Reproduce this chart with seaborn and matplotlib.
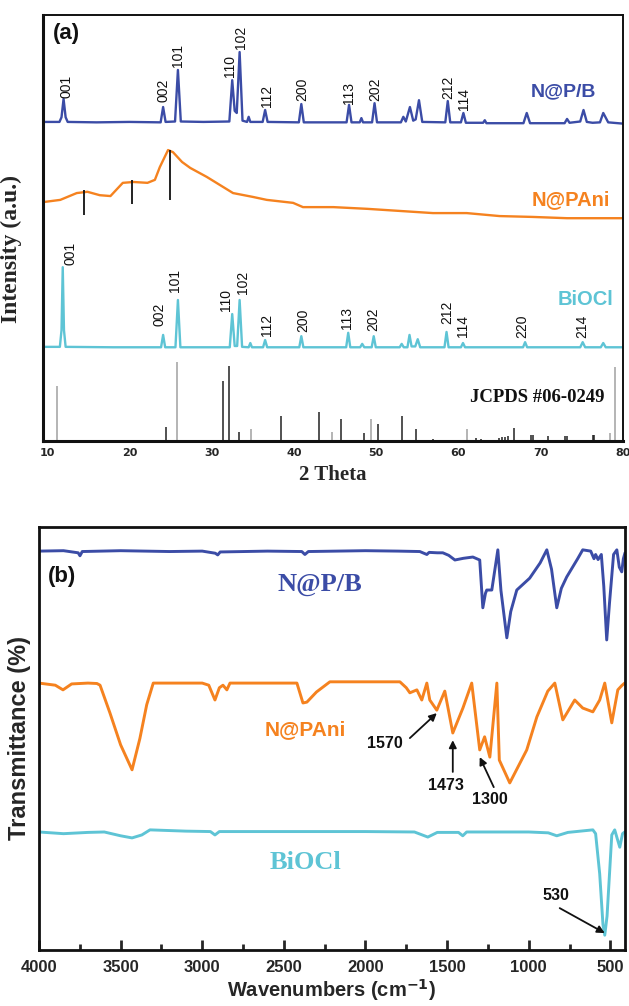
import matplotlib
matplotlib.use("Agg")
import matplotlib.pyplot as plt
import seaborn as sns
import pandas as pd

# ---------------- DATA: XRD (panel a) ----------------
npb_2theta = [9.5, 11.5, 11.75, 12.0, 12.25, 12.5, 16.0, 20.0, 23.8, 24.1, 24.4,
              25.55, 25.9, 26.25, 29.0, 32.15, 32.5, 32.8, 33.05, 33.4, 33.75,
              34.3, 34.5, 34.7, 36.2, 36.5, 36.8, 40.6, 40.9, 41.2, 44.0, 46.4, 46.7, 47.0,
              48.0, 48.2, 48.4, 49.5, 49.8, 50.1, 53.0, 53.3, 53.6, 54.1, 54.5, 54.8, 55.2, 55.6,
              58.4, 58.7, 59.0, 60.3, 60.6, 60.9, 63.0, 63.2, 63.4, 67.9, 68.3, 68.7,
              72.9, 73.2, 73.5, 74.8, 75.2, 75.6, 76.3, 77.2, 77.6, 78.2, 80.0]
npb_int = [74.9, 74.9, 76.0, 80.3, 76.0, 74.9, 74.8, 74.9, 74.8, 78.4, 74.9,
           75.0, 87.1, 75.0, 74.9, 75.0, 84.7, 77.5, 77.0, 91.3, 75.2,
           74.9, 76.1, 74.9, 74.9, 77.7, 74.9, 74.8, 79.1, 74.8, 74.8, 74.8, 78.9, 74.8,
           74.8, 75.8, 74.8, 74.8, 79.3, 74.8, 74.8, 76.1, 75.0, 78.4, 75.2, 75.5, 80.0, 74.9,
           74.8, 79.8, 74.8, 74.8, 77.0, 74.7, 74.7, 75.3, 74.6, 74.6, 77.0, 74.6,
           74.6, 75.6, 74.7, 75.0, 77.7, 74.9, 74.7, 74.8, 77.0, 74.8, 74.5]

pani_2theta = [9.6, 11.6, 13.6, 14.9, 16.4, 17.7, 19.2, 20.5, 22.2, 23.1, 23.7, 24.7,
               25.3, 26.4, 27.4, 29.4, 31.0, 32.6, 35.0, 36.7, 39.9, 41.1, 44.8, 48.9,
               52.9, 56.9, 61.0, 65.0, 69.0, 73.2, 80.0]
pani_int = [56.1, 56.6, 58.2, 58.5, 57.7, 57.5, 60.6, 60.8, 60.6, 61.3, 64.3, 68.3,
            67.8, 65.5, 64.1, 62.0, 60.1, 58.2, 57.3, 56.6, 55.9, 54.9, 54.9, 54.5,
            54.0, 53.5, 53.5, 52.8, 52.6, 52.3, 52.3]
pani_mark_2theta = [14.5, 20.3, 24.9]
pani_mark_top = [58.9, 61.3, 68.3]
pani_mark_bottom = [53.1, 55.6, 56.6]

biocl_2theta = [9.5, 11.55, 11.75, 11.9, 12.05, 12.25, 18.0, 23.85, 24.1, 24.35,
                25.6, 25.9, 26.2, 32.2, 32.5, 32.8, 33.1, 33.4, 33.7,
                34.5, 34.7, 34.9, 36.25, 36.5, 36.75, 40.65, 40.9, 41.15,
                46.35, 46.6, 46.85, 48.05, 48.3, 48.55, 49.45, 49.7, 49.95,
                52.85, 53.1, 53.35, 53.8, 54.05, 54.3, 54.75, 55.05, 55.35,
                58.3, 58.55, 58.8, 60.3, 60.55, 60.8, 67.85, 68.1, 68.35,
                74.8, 75.1, 75.4, 77.3, 77.6, 77.9, 80.0]
biocl_int = [22.1, 22.1, 26.0, 40.8, 26.0, 22.1, 22.0, 22.0, 24.9, 22.0,
             22.0, 33.1, 22.0, 22.0, 29.8, 22.3, 22.3, 33.1, 22.1,
             22.0, 23.0, 22.0, 22.0, 23.7, 22.0, 22.0, 24.6, 22.0,
             22.0, 25.4, 22.0, 22.0, 22.8, 22.0, 22.0, 24.6, 22.0,
             22.0, 22.8, 22.0, 22.0, 24.9, 22.2, 22.2, 23.9, 22.0,
             22.0, 25.6, 22.0, 22.0, 23.0, 22.0, 22.0, 23.2, 22.0,
             22.0, 23.2, 22.0, 22.0, 23.0, 22.0, 22.0]

npb_hkl = ["001", "002", "101", "110", "102", "112", "200", "113", "202", "212", "114"]
npb_hkl_2theta = [12.3, 24.1, 25.9, 32.2, 33.6, 36.7, 41.0, 46.7, 49.9, 58.7, 60.7]
npb_hkl_y = [83.3, 82.4, 90.4, 88.0, 94.8, 81.0, 82.6, 81.7, 82.6, 83.1, 80.3]

biocl_hkl = ["001", "002", "101", "110", "102", "112", "200", "113", "202", "212", "114", "220", "214"]
biocl_hkl_2theta = [12.9, 23.7, 25.6, 31.7, 33.8, 36.7, 41.1, 46.5, 49.6, 58.6, 60.5, 67.8, 75.0]
biocl_hkl_y = [44.1, 29.8, 37.6, 33.1, 37.3, 27.2, 28.4, 28.9, 28.6, 30.3, 27.0, 27.0, 26.8]

jcpds_2theta = [11.2, 24.5, 25.8, 31.4, 32.1, 33.3, 34.8, 38.4, 43.0, 44.6, 45.7, 48.5,
                49.4, 50.2, 53.1, 54.8, 56.9, 61.0, 62.1, 62.8, 64.9, 65.3, 65.6, 66.0,
                66.7, 68.8, 69.1, 70.9, 72.9, 73.2, 76.3, 76.5, 78.4, 79.0]
jcpds_height = [12.9, 3.3, 18.5, 14.1, 17.6, 2.1, 2.8, 5.9, 6.8, 2.1, 5.2, 1.9,
                5.2, 4.0, 5.9, 2.8, 0.5, 2.8, 0.7, 0.5, 0.7, 0.9, 0.9, 1.2,
                3.1, 1.4, 1.4, 1.2, 1.2, 1.2, 1.4, 1.4, 1.9, 17.4]
jcpds_gray = [1, 0, 1, 0, 0, 0, 1, 0, 0, 1, 0, 0,
              1, 0, 0, 0, 0, 1, 0, 0, 0, 0, 0, 0,
              0, 0, 0, 0, 0, 0, 0, 0, 1, 1]
xrd_ticks = [10, 20, 30, 40, 50, 60, 70, 80]

# ---------------- DATA: FTIR (panel b) ----------------
npb_wn = [4000, 3850, 3760, 3749, 3735, 3500, 3200, 3000, 2920, 2905, 2890, 2600, 2390, 2371,
          2350, 2000, 1800, 1667, 1624, 1610, 1560, 1526, 1490, 1452, 1400, 1342, 1300, 1281,
          1265, 1257, 1226, 1189, 1170, 1134, 1110, 1073, 994, 930, 889, 860, 828, 800, 767,
          700, 669, 620, 600, 590, 575, 555, 540, 522, 505, 480, 460, 445, 430, 420, 410]
npb_T = [94.3, 94.4, 93.9, 93.2, 94.2, 94.4, 94.2, 94.3, 93.8, 93.4, 94.1, 94.3, 94.2, 93.5,
         94.2, 94.4, 94.3, 94.2, 93.5, 94.0, 93.9, 93.9, 93.3, 92.2, 92.6, 92.9, 92.2, 80.9,
         84.3, 85.1, 85.1, 94.6, 85.0, 73.8, 80.0, 85.1, 87.9, 91.5, 94.6, 90.0, 80.9, 85.5, 88.2,
         92.5, 94.6, 94.3, 92.5, 93.5, 92.3, 93.5, 86.0, 73.3, 82.0, 93.5, 94.6, 90.5, 89.4, 92.5, 93.9]

pani_wn = [4000, 3900, 3853, 3800, 3700, 3645, 3626, 3565, 3500, 3430, 3382, 3340, 3300, 3000,
           2960, 2922, 2895, 2873, 2849, 2830, 2420, 2383, 2359, 2300, 2218, 1789, 1750, 1728,
           1685, 1655, 1624, 1606, 1563, 1514, 1465, 1403, 1349, 1300, 1270, 1238, 1195, 1180,
           1116, 1012, 950, 883, 840, 791, 718, 669, 607, 565, 534, 491, 454, 430, 412]
pani_T = [63.1, 62.6, 61.5, 62.9, 63.1, 63.0, 62.6, 56.0, 48.5, 42.6, 50.0, 58.0, 63.1, 63.1,
          62.6, 59.1, 62.0, 62.6, 61.5, 63.1, 63.1, 58.4, 58.6, 61.0, 63.4, 63.4, 62.0, 60.8,
          61.5, 59.1, 63.1, 59.1, 56.7, 61.2, 51.3, 57.2, 63.1, 47.3, 50.4, 45.6, 63.1, 44.9,
          39.5, 47.3, 55.1, 61.2, 63.1, 54.4, 59.1, 57.2, 56.3, 59.1, 63.1, 53.7, 61.5, 62.5, 63.1]

biocl_wn = [4000, 3850, 3700, 3600, 3500, 3430, 3370, 3320, 3100, 2950, 2922, 2895, 2500, 2000,
            1700, 1618, 1560, 1430, 1404, 1380, 1000, 880, 828, 760, 607, 590, 565, 545, 534,
            520, 491, 473, 455, 442, 425, 412]
biocl_T = [27.9, 27.5, 27.8, 27.9, 27.0, 26.5, 27.2, 28.4, 28.1, 28.0, 27.2, 28.0, 28.0, 28.0,
           27.9, 26.7, 27.8, 27.8, 27.0, 27.9, 27.9, 27.7, 27.0, 27.8, 28.4, 27.5, 18.0, 6.0, 3.5,
           8.0, 27.2, 28.4, 26.0, 24.3, 27.5, 27.9]

ftir_ticks = [4000, 3500, 3000, 2500, 2000, 1500, 1000, 500]
ftir_minor = [3750, 3250, 2750, 2250, 1750, 1250, 750]
ftir_peaks = ["1570", "1473", "1300", "530"]

# ---------------- STYLE ----------------
c_blue = "#3b4ca6"
c_orange = "#f5821f"
c_cyan = "#5ec4d5"

sns.set_theme(style="white")
plt.rcParams['font.family'] = ['Liberation Sans', 'DejaVu Sans']
SERIF = ['Liberation Serif', 'DejaVu Serif']

fig = plt.figure(figsize=(6.29, 10.06), dpi=100)
W, H = 629.0, 1006.0
axA = fig.add_axes([43 / W, 1 - 441 / H, (623 - 43) / W, (441 - 15) / H])
axB = fig.add_axes([39 / W, 1 - 950 / H, (625 - 39) / W, (950 - 527) / H])

# ---------------- PANEL (a) ----------------
sns.lineplot(x=npb_2theta, y=npb_int, ax=axA, color=c_blue, linewidth=1.7,
             sort=False, estimator=None)
sns.lineplot(x=pani_2theta, y=pani_int, ax=axA, color=c_orange, linewidth=1.7,
             sort=False, estimator=None)
sns.lineplot(x=biocl_2theta, y=biocl_int, ax=axA, color=c_cyan, linewidth=1.7,
             sort=False, estimator=None)
axA.vlines(pani_mark_2theta, pani_mark_bottom, pani_mark_top, color="#111111", linewidth=1.3)
for xv, hv, g in zip(jcpds_2theta, jcpds_height, jcpds_gray):
    axA.vlines(xv, 0, hv, color="#a0a0a0" if g else "#222222", linewidth=1.1)

for lab, xv, yv in zip(npb_hkl, npb_hkl_2theta, npb_hkl_y):
    axA.text(xv, yv, lab, rotation=90, ha="center", va="center", fontsize=10, color="#111111")
for lab, xv, yv in zip(biocl_hkl, biocl_hkl_2theta, biocl_hkl_y):
    axA.text(xv, yv, lab, rotation=90, ha="center", va="center", fontsize=10, color="#111111")

axA.text(72.8, 81.9, "N@P/B", color=c_blue, fontsize=14, fontweight="bold", ha="center", va="center")
axA.text(73.7, 56.6, "N@PAni", color=c_orange, fontsize=14.5, fontweight="bold", ha="center", va="center")
axA.text(75.5, 33.1, "BiOCl", color=c_cyan, fontsize=14.5, fontweight="bold", ha="center", va="center")
axA.text(12.3, 95.6, "(a)", fontsize=16, fontweight="bold", ha="center", va="center", color="#111111")
axA.text(77.8, 10.3, "JCPDS #06-0249", family=SERIF, fontsize=13.5, fontweight="bold",
         ha="right", va="center", color="#111111")

axA.set_xlim(9.5, 80)
axA.set_ylim(0, 100)
axA.set_xticks(xrd_ticks)
axA.set_xticklabels([str(t) for t in xrd_ticks], fontsize=8, fontweight="bold",
                    family=['DejaVu Sans'])
axA.set_yticks([])
axA.tick_params(axis="x", direction="in", length=0, pad=5)
axA.set_xlabel("2 Theta", family=SERIF, fontsize=15, fontweight="bold", labelpad=5)
axA.set_ylabel("Intensity (a.u.)", family=SERIF, fontsize=17, fontweight="bold", labelpad=5)
axA.yaxis.set_label_coords(-0.036, 0.45)
for s in ["left", "bottom"]:
    axA.spines[s].set_linewidth(2.2)
for s in ["top", "right"]:
    axA.spines[s].set_linewidth(1.4)
for s in axA.spines.values():
    s.set_color("#111111")

# ---------------- PANEL (b) ----------------
sns.lineplot(x=npb_wn, y=npb_T, ax=axB, color=c_blue, linewidth=2.1, sort=False, estimator=None)
sns.lineplot(x=pani_wn, y=pani_T, ax=axB, color=c_orange, linewidth=2.1, sort=False, estimator=None)
sns.lineplot(x=biocl_wn, y=biocl_T, ax=axB, color=c_cyan, linewidth=2.1, sort=False, estimator=None)

axB.text(3859, 88.2, "(b)", fontsize=16, fontweight="bold", ha="center", va="center", color="#111111")
axB.text(2279, 86.3, "N@P/B", family=SERIF, color=c_blue, fontsize=19, fontweight="bold",
         ha="center", va="center")
axB.text(2371, 52.0, "N@PAni", color=c_orange, fontsize=15, fontweight="bold", ha="center", va="center")
axB.text(2365, 20.6, "BiOCl", family=SERIF, color=c_cyan, fontsize=19, fontweight="bold",
         ha="center", va="center")

ann_text_pos = [(1881, 48.9), (1508, 39.0), (1238, 35.5), (834, 13.0)]
ann_tail = [(1728, 50.1), (1465, 42.1), (1214, 38.5), (810, 9.9)]
ann_head = [(1563, 56.0), (1465, 49.6), (1300, 45.6), (534, 4.0)]
for lab, tp, tl, hd in zip(ftir_peaks, ann_text_pos, ann_tail, ann_head):
    axB.text(tp[0], tp[1], lab, fontsize=11.5, fontweight="bold", ha="center", va="center",
             color="#111111")
    axB.annotate("", xy=hd, xytext=tl,
                 arrowprops=dict(arrowstyle="-|>", color="#111111", lw=1.3, mutation_scale=11,
                                 shrinkA=0, shrinkB=0))

axB.set_xlim(4000, 410)
axB.set_ylim(0, 100)
axB.set_xticks(ftir_ticks)
axB.set_xticks(ftir_minor, minor=True)
axB.set_xticklabels([str(t) for t in ftir_ticks], fontsize=12, fontweight="bold")
axB.set_yticks([])
axB.tick_params(axis="x", which="major", direction="in", length=7, width=2, pad=7, bottom=True)
axB.tick_params(axis="x", which="minor", direction="in", length=4, width=2, bottom=True)
axB.set_xlabel("Wavenumbers (cm$^{\\mathbf{-1}}$)", fontsize=14.5, fontweight="bold", labelpad=2)
axB.set_ylabel("Transmittance (%)", fontsize=17, fontweight="bold", labelpad=6)
for s in axB.spines.values():
    s.set_linewidth(2.0)
    s.set_color("#111111")

fig.savefig("out.png", dpi=100)
